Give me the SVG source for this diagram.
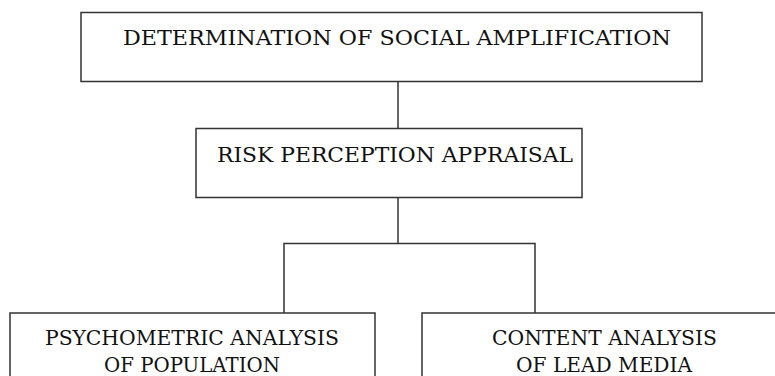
<svg xmlns="http://www.w3.org/2000/svg" width="775" height="376" viewBox="0 0 775 376">
<style>
.box{fill:#fff;stroke:#333;stroke-width:1.5}
.ln{fill:none;stroke:#333;stroke-width:1.5}
text{font-family:"DejaVu Serif","Liberation Serif",serif;font-size:20px;fill:#111}
</style>
<rect width="775" height="376" fill="#fff"/>
<g id="connectors">
<line class="ln" x1="398" y1="81.5" x2="398" y2="128.5"/>
<polyline class="ln" points="284,313 284,243.5 535,243.5 535,313"/>
<line class="ln" x1="398" y1="197.5" x2="398" y2="243.5"/>
</g>
<g id="node-top">
<rect class="box" x="81" y="12.5" width="621" height="69"/>
<text x="123" y="45" textLength="548" lengthAdjust="spacingAndGlyphs">DETERMINATION OF SOCIAL AMPLIFICATION</text>
</g>
<g id="node-middle">
<rect class="box" x="196" y="128.5" width="386" height="69"/>
<text x="217" y="162" textLength="356" lengthAdjust="spacingAndGlyphs">RISK PERCEPTION APPRAISAL</text>
</g>
<g id="node-psychometric">
<rect class="box" x="10" y="313" width="365" height="80"/>
<text x="45" y="345" textLength="294" lengthAdjust="spacingAndGlyphs">PSYCHOMETRIC ANALYSIS</text>
<text x="104" y="372" textLength="176" lengthAdjust="spacingAndGlyphs">OF POPULATION</text>
</g>
<g id="node-content">
<rect class="box" x="422" y="313" width="366" height="80"/>
<text x="492" y="345" textLength="225" lengthAdjust="spacingAndGlyphs">CONTENT ANALYSIS</text>
<text x="516" y="372" textLength="176" lengthAdjust="spacingAndGlyphs">OF LEAD MEDIA</text>
</g>
</svg>
